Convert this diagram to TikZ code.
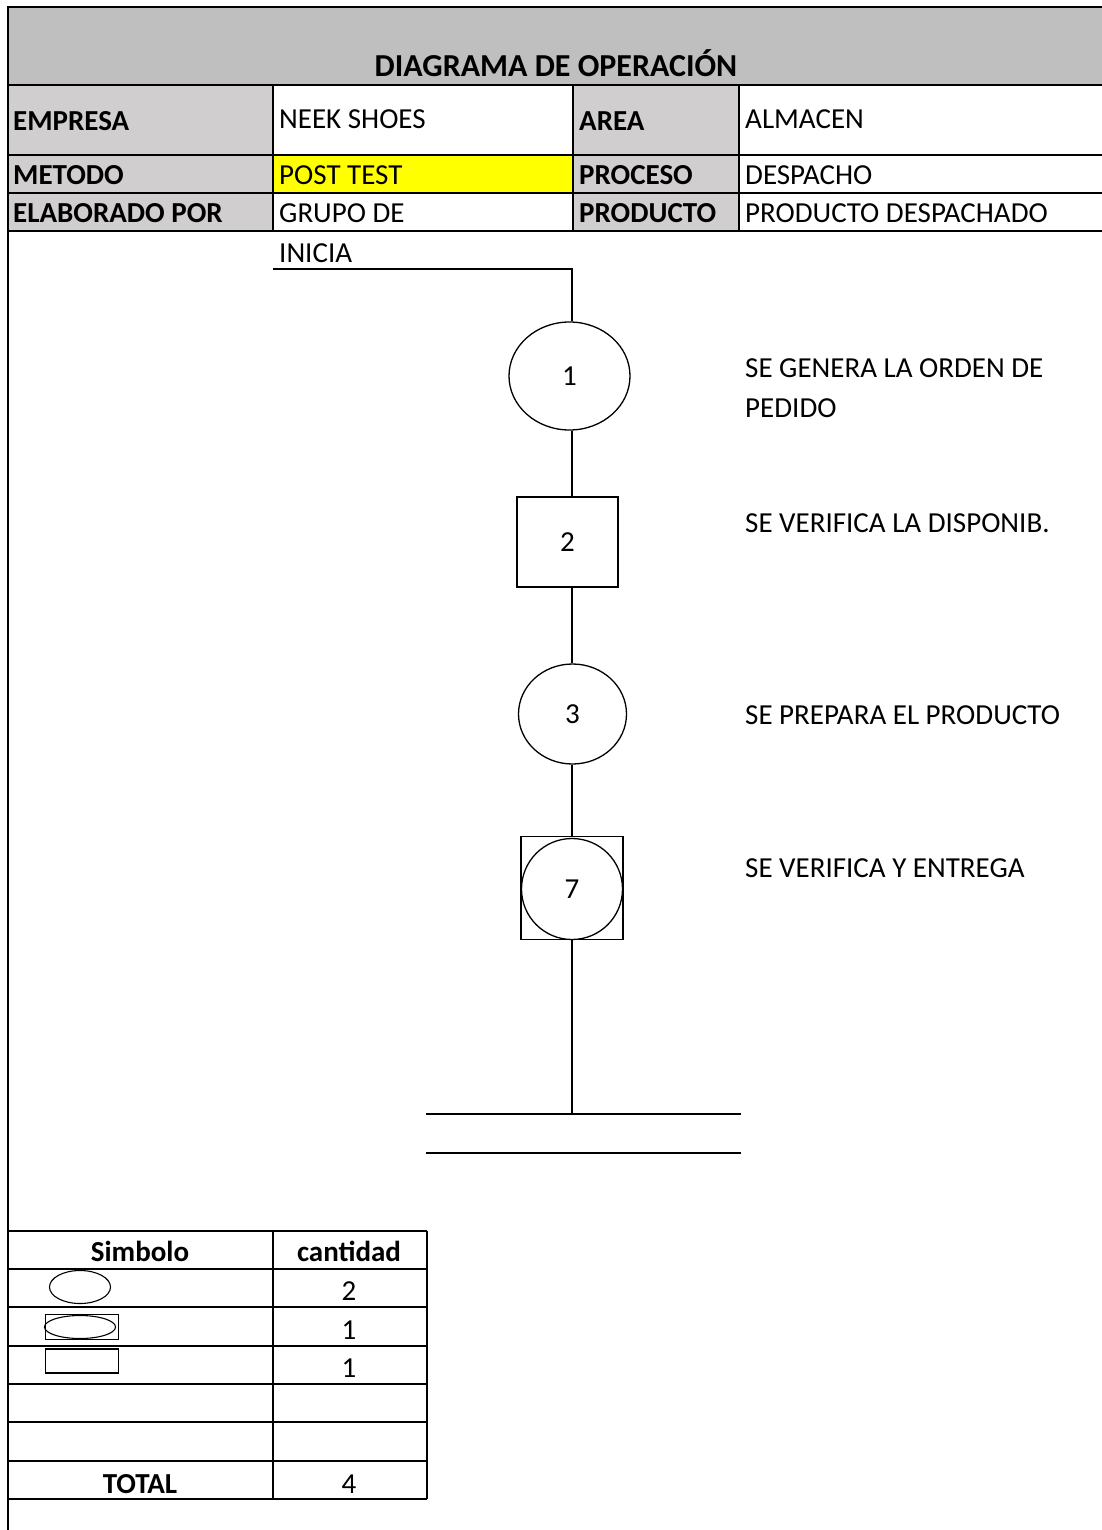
\documentclass[tikz,border=0pt]{standalone}
\usepackage{fontspec}
\setmainfont{Carlito}
\usetikzlibrary{shapes.geometric}
\definecolor{headgray}{HTML}{BFBFBF}
\definecolor{labelgray}{HTML}{D0CECE}
\definecolor{hiyellow}{HTML}{FFFF00}
\begin{document}
\begin{tikzpicture}[x=1pt,y=-1pt,
  grid/.style={line width=1.6pt},
  shp/.style={draw, line width=1.3pt, inner sep=0pt, font=\fontsize{29}{34}\selectfont},
  flow/.style={line width=1.5pt},
  txt/.style={anchor=base west, inner sep=0pt, font=\fontsize{29}{34}\selectfont},
  btxt/.style={anchor=base west, inner sep=0pt, font=\fontsize{29}{34}\selectfont\bfseries},
  ctxt/.style={anchor=base, inner sep=0pt, font=\fontsize{29}{34}\selectfont},
  cbtxt/.style={anchor=base, inner sep=0pt, font=\fontsize{29}{34}\selectfont\bfseries}
]
\useasboundingbox (0,0) rectangle (1102,1530);
\fill[white] (0,0) rectangle (1102,1530);

% header band and information table
\fill[headgray] (8,7) rectangle (1102,85);
\fill[labelgray] (8,85) rectangle (273,231);
\fill[labelgray] (573,85) rectangle (739,231);
\fill[hiyellow] (273,155) rectangle (573,193);
\draw[grid] (1102,7) -- (8,7) -- (8,1530);
\foreach \yy in {85,155,193,231} \draw[grid] (8,\yy) -- (1102,\yy);
\foreach \xx in {273,573,739} \draw[grid] (\xx,85) -- (\xx,231);

\node[anchor=base, inner sep=0pt, font=\fontsize{32}{38}\selectfont\bfseries] (title) at (556,77) {DIAGRAMA DE OPERACIÓN};
\node[btxt] (l1) at (13,131) {EMPRESA};
\node[txt]  (v1) at (279,129) {NEEK SHOES};
\node[btxt] (l2) at (579,131) {AREA};
\node[txt]  (v2) at (745,129) {ALMACEN};
\node[btxt] (l3) at (13,185) {METODO};
\node[txt]  (v3) at (279,185) {POST TEST};
\node[btxt] (l4) at (579,185) {PROCESO};
\node[txt]  (v4) at (745,185) {DESPACHO};
\node[btxt] (l5) at (13,223) {ELABORADO POR};
\node[txt]  (v5) at (279,223) {GRUPO DE};
\node[btxt] (l6) at (579,223) {PRODUCTO};
\node[txt]  (v6) at (745,223) {PRODUCTO DESPACHADO};

% process chart: symbols hang on a common vertical axis
\coordinate (axis) at (572,0);
\node[txt] (inicia) at (279,262) {INICIA};
\coordinate (start) at (273,269);

\node[shp, ellipse, minimum width=121pt, minimum height=108pt] (op1) at (569.5,376) {1};
\node[shp, rectangle, minimum width=101pt, minimum height=90pt] (ins2) at (567.5,542) {2};
\node[shp, ellipse, minimum width=108pt, minimum height=100pt] (op3) at (572.5,714) {3};
\node[shp, rectangle, minimum width=102pt, minimum height=103pt] (comb7) at (572,888) {};
\node[shp, circle, minimum size=101pt] (comb7c) at (572,889) {7};

\coordinate (stop) at (572,1114);
\coordinate (b1w) at (426,1114);
\coordinate (b1e) at (741,1114);
\coordinate (b2w) at (426,1153);
\coordinate (b2e) at (741,1153);

\draw[flow] (start) -| (op1.north -| axis);
\draw[flow] (op1.south -| axis) -- (ins2.north -| axis);
\draw[flow] (ins2.south -| axis) -- (op3.north -| axis);
\draw[flow] (op3.south -| axis) -- (comb7.north -| axis);
\draw[flow] (comb7.south -| axis) -- (stop);
\draw[flow] (b1w) -- (b1e);
\draw[flow] (b2w) -- (b2e);

\node[txt] (d1a) at (745,377) {SE GENERA LA ORDEN DE};
\node[txt] (d1b) at (745,417) {PEDIDO};
\node[txt] (d2) at (745,532) {SE VERIFICA LA DISPONIB.};
\node[txt] (d3) at (745,724) {SE PREPARA EL PRODUCTO};
\node[txt] (d4) at (745,877) {SE VERIFICA Y ENTREGA};

% summary table
\foreach \yy in {1231,1269,1307,1346,1384,1422,1461,1499} \draw[grid] (8,\yy) -- (427,\yy);
\draw[grid] (273,1231) -- (273,1499);
\draw[grid] (427,1231) -- (427,1499);

\node[cbtxt] (hsym) at (140,1261) {Simbolo};
\node[cbtxt] (hqty) at (349,1261) {cantidad};
\node[shp, ellipse, minimum width=61pt, minimum height=33pt, line width=1.1pt] (sym1) at (80,1287) {};
\node[ctxt] (q1) at (349,1300) {2};
\node[shp, rectangle, minimum width=73pt, minimum height=25pt, line width=1.1pt] (sym2r) at (82,1327) {};
\node[shp, ellipse, minimum width=71pt, minimum height=23pt, line width=1.1pt] (sym2e) at (80,1327) {};
\node[ctxt] (q2) at (349,1339) {1};
\node[shp, rectangle, minimum width=73pt, minimum height=24pt, line width=1.1pt] (sym3) at (82,1361) {};
\node[ctxt] (q3) at (349,1377) {1};
\node[cbtxt] (tot) at (140,1493) {TOTAL};
\node[ctxt] (qt) at (349,1493) {4};
\end{tikzpicture}
\end{document}
